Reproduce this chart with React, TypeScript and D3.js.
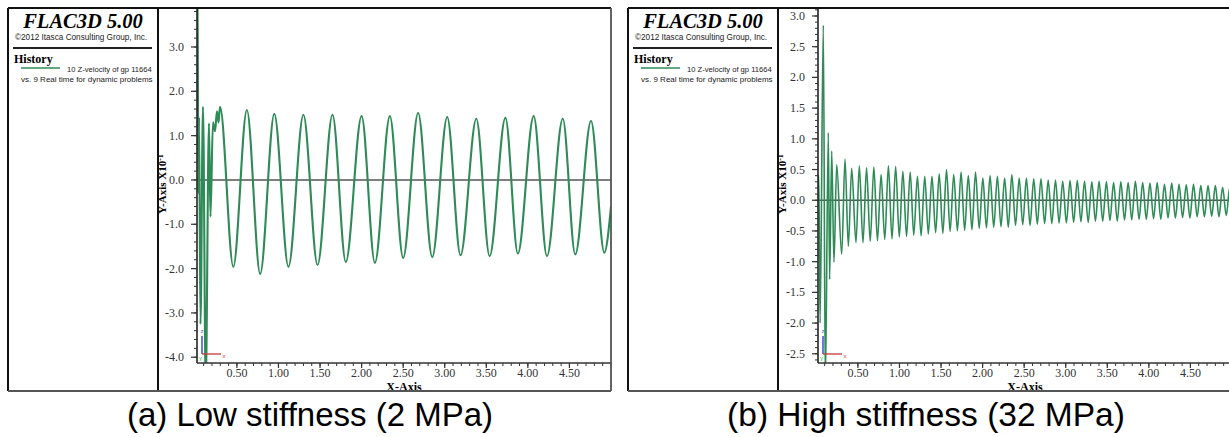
import React from 'react';
import * as d3 from 'd3';

// ---------- data ----------
const xTickValues = [0.5, 1.0, 1.5, 2.0, 2.5, 3.0, 3.5, 4.0, 4.5];
const xTickLabels = ['0.50', '1.00', '1.50', '2.00', '2.50', '3.00', '3.50', '4.00', '4.50'];

const leftYTicks = [3, 2, 1, 0, -1, -2, -3, -4];
const leftYLabels = ['3.0', '2.0', '1.0', '0.0', '-1.0', '-2.0', '-3.0', '-4.0'];
const rightYTicks = [3, 2.5, 2, 1.5, 1, 0.5, 0, -0.5, -1, -1.5, -2, -2.5];
const rightYLabels = ['3.0', '2.5', '2.0', '1.5', '1.0', '0.5', '0.0', '-0.5', '-1.0', '-1.5', '-2.0', '-2.5'];

// (a) low stiffness: time (s) and Z-velocity (x10^-1)
const leftTime = [0.0, 0.026, 0.036, 0.044, 0.062, 0.092, 0.125, 0.164, 0.182, 0.212, 0.237, 0.26, 0.279, 0.297,
  0.457, 0.62, 0.78, 0.95, 1.12, 1.30, 1.47, 1.65, 1.81, 2.0, 2.16, 2.34, 2.5, 2.68, 2.85, 3.03, 3.19, 3.38,
  3.54, 3.73, 3.88, 4.07, 4.23, 4.42, 4.57, 4.76, 4.92, 5.0];
const leftVel = [0.0, 4.6, -0.3, 1.42, -3.25, 1.65, -4.6, 1.28, -0.83, 1.3, 1.1, 1.55, 1.3, 1.65,
  -1.96, 1.58, -2.12, 1.49, -1.96, 1.47, -1.92, 1.47, -1.85, 1.44, -1.87, 1.44, -1.76, 1.51, -1.74, 1.42, -1.70, 1.38,
  -1.72, 1.40, -1.66, 1.44, -1.72, 1.38, -1.68, 1.33, -1.64, -0.6];

// (b) high stiffness: early transient
const rightStartTime = [0.0, 0.03, 0.045, 0.084, 0.108, 0.144, 0.160, 0.185, 0.212, 0.245, 0.305, 0.345, 0.385, 0.425, 0.477];
const rightStartVel = [0.0, 0.4, -2.0, 2.85, -3.0, 1.10, -1.29, 0.80, -1.01, 0.58, -0.88, 0.67, -0.75, 0.52, -0.69];
// (b) peaks
const rightPeakTime = [0.517, 0.604, 0.692, 0.779, 0.867, 0.954, 1.041, 1.129, 1.216, 1.304, 1.391, 1.478, 1.566,
  1.653, 1.741, 1.828, 1.915, 2.003, 2.090, 2.178, 2.265, 2.352, 2.440, 2.527, 2.615, 2.702, 2.789, 2.877, 2.964,
  3.052, 3.139, 3.226, 3.314, 3.401, 3.489, 3.576, 3.663, 3.751, 3.838, 3.926, 4.013, 4.100, 4.188, 4.275, 4.363,
  4.450, 4.537, 4.625, 4.712, 4.800, 4.887, 4.974];
const rightPeakVel = [0.56, 0.53, 0.54, 0.42, 0.56, 0.55, 0.47, 0.46, 0.39, 0.39, 0.39, 0.43, 0.50,
  0.42, 0.46, 0.40, 0.46, 0.36, 0.40, 0.39, 0.36, 0.42, 0.36, 0.36, 0.35, 0.35, 0.33, 0.33, 0.31,
  0.32, 0.32, 0.31, 0.30, 0.31, 0.30, 0.29, 0.30, 0.29, 0.31, 0.29, 0.28, 0.29, 0.26, 0.28, 0.26,
  0.25, 0.26, 0.24, 0.24, 0.24, 0.21, 0.22];
// (b) troughs
const rightTroughTime = [0.561, 0.648, 0.735, 0.823, 0.910, 0.998, 1.085, 1.172, 1.260, 1.347, 1.435, 1.522, 1.609,
  1.697, 1.784, 1.872, 1.959, 2.046, 2.134, 2.221, 2.309, 2.396, 2.483, 2.571, 2.658, 2.746, 2.833, 2.920, 3.008,
  3.095, 3.183, 3.270, 3.357, 3.445, 3.532, 3.620, 3.707, 3.794, 3.882, 3.969, 4.057, 4.144, 4.231, 4.319, 4.406,
  4.494, 4.581, 4.668, 4.756, 4.843, 4.931];
const rightTroughVel = [-0.69, -0.67, -0.66, -0.64, -0.63, -0.60, -0.59, -0.57, -0.58, -0.55, -0.53, -0.54, -0.51,
  -0.50, -0.49, -0.48, -0.46, -0.45, -0.44, -0.43, -0.44, -0.41, -0.40, -0.41, -0.39, -0.38, -0.38, -0.37, -0.37,
  -0.36, -0.35, -0.36, -0.34, -0.34, -0.33, -0.34, -0.32, -0.32, -0.31, -0.31, -0.30, -0.31, -0.29, -0.29, -0.28,
  -0.29, -0.27, -0.27, -0.26, -0.27, -0.25];
const rightEndTime = [5.0];
const rightEndVel = [-0.1];

type Pt = [number, number];
const zip = (t: number[], v: number[]): Pt[] => t.map((d, i) => [d, v[i]] as Pt);

const leftData: Pt[] = zip(leftTime, leftVel);
const rightData: Pt[] = [
  ...zip(rightStartTime, rightStartVel),
  ...zip(rightPeakTime, rightPeakVel),
  ...zip(rightTroughTime, rightTroughVel),
  ...zip(rightEndTime, rightEndVel),
].sort((a, b) => a[0] - b[0]);

const GREEN = '#2e8b57';
const SERIF = '"Liberation Serif", "Times New Roman", serif';
const SANS = '"Liberation Sans", Arial, sans-serif';

interface PanelProps {
  id: string;
  boxL: number;
  divX: number;
  axX: number;
  boxR: number;
  yDomain: [number, number];
  yTicks: number[];
  yLabels: string[];
  yMinor: number[];
  data: Pt[];
  strokeW: number;
}

const TOP = 8;
const XAXIS_Y = 363;
const BOTTOM = 391;

function Panel(p: PanelProps) {
  const x = d3.scaleLinear().domain([0.02, 5.0]).range([p.axX, p.axX + 4.98 * 83.13]);
  const y = d3.scaleLinear().domain(p.yDomain).range([XAXIS_Y, TOP]);
  const line = d3.line<Pt>().x(d => x(d[0])).y(d => y(d[1])).curve(d3.curveMonotoneX);
  const xMinor = d3.range(0.1, 5.001, 0.1);
  const cx = (p.axX + p.boxR) / 2;
  const a = p.axX;
  return (
    <g>
      <defs>
        <clipPath id={`plot-${p.id}`}>
          <rect x={p.axX} y={TOP} width={p.boxR - p.axX} height={XAXIS_Y - TOP} />
        </clipPath>
        <clipPath id={`box-${p.id}`}>
          <rect x={p.divX} y={TOP} width={p.boxR - p.divX} height={BOTTOM - TOP} />
        </clipPath>
      </defs>
      <rect x={p.boxL} y={TOP} width={p.boxR - p.boxL} height={BOTTOM - TOP} fill="#fff" />

      {/* legend */}
      <text x={(p.boxL + p.divX) / 2} y={28} textAnchor="middle" fontFamily={SERIF} fontWeight="bold"
        fontStyle="italic" fontSize={20.5}>FLAC3D 5.00</text>
      <text x={p.boxL + 7} y={40} fontFamily={SANS} fontSize={8.2} fill="#222">©2012 Itasca Consulting Group, Inc.</text>
      <line x1={p.boxL + 5} x2={p.divX - 6} y1={48} y2={48} stroke="#222" strokeWidth={1.8} />
      <text x={p.boxL + 6} y={63} fontFamily={SERIF} fontWeight="bold" fontSize={12}>History</text>
      <line x1={p.boxL + 13} x2={p.boxL + 52} y1={68} y2={68} stroke={GREEN} strokeWidth={1.5} />
      <text x={p.boxL + 59} y={72} fontFamily={SANS} fontSize={7.6} fill="#222">10 Z-velocity of gp 11664</text>
      <text x={p.boxL + 13} y={82} fontFamily={SANS} fontSize={8} fill="#222">vs. 9 Real time for dynamic problems</text>

      {/* axis titles */}
      <g clipPath={`url(#box-${p.id})`}>
        <text transform={`translate(${p.divX + 7.5},184) rotate(-90)`} textAnchor="middle" fontFamily={SERIF}
          fontWeight="bold" fontSize={11}>
          Y-Axis  X10<tspan dy={-3} fontSize={8}>-1</tspan>
        </text>
        <text x={cx} y={391} textAnchor="middle" fontFamily={SERIF} fontWeight="bold" fontSize={12}>X-Axis</text>
      </g>

      {/* zero line */}
      <line x1={p.axX} x2={p.boxR} y1={y(0)} y2={y(0)} stroke="#555" strokeWidth={1.5} />

      {/* data */}
      <g clipPath={`url(#plot-${p.id})`}>
        <path d={line(p.data) || ''} fill="none" stroke={GREEN} strokeWidth={p.strokeW} strokeLinejoin="round" />
      </g>

      {/* axis glyph */}
      <line x1={a + 5} x2={a + 5} y1={336} y2={354} stroke="#2233cc" strokeWidth={1.3} />
      <line x1={a + 5} x2={a + 24} y1={354} y2={354} stroke="#cc3333" strokeWidth={1.3} />
      <text x={a + 5} y={333} textAnchor="middle" fontFamily={SANS} fontSize={6} fill="#4455dd">z</text>
      <text x={a + 27} y={358} textAnchor="middle" fontFamily={SANS} fontSize={6} fill="#dd3333">x</text>
      <text x={a + 3.5} y={360} textAnchor="middle" fontFamily={SANS} fontSize={6} fill="#33bb33">y</text>

      {/* y axis */}
      <line x1={p.axX} x2={p.axX} y1={TOP + 1} y2={XAXIS_Y} stroke="#222" strokeWidth={1.6} />
      {p.yMinor.map((v, i) => (
        <line key={`ym${i}`} x1={p.axX - 3} x2={p.axX} y1={y(v)} y2={y(v)} stroke="#333" strokeWidth={1} />
      ))}
      {p.yTicks.map((v, i) => (
        <g key={`yt${i}`}>
          <line x1={p.axX - 6} x2={p.axX} y1={y(v)} y2={y(v)} stroke="#333" strokeWidth={1.2} />
          <text x={p.axX - 13} y={y(v) + 4} textAnchor="end" fontFamily={SERIF} fontSize={12} fill="#333">{p.yLabels[i]}</text>
        </g>
      ))}

      {/* x axis */}
      <line x1={p.axX} x2={p.boxR} y1={XAXIS_Y} y2={XAXIS_Y} stroke="#333" strokeWidth={1.6} />
      {xMinor.map((v, i) => (
        <line key={`xm${i}`} x1={x(v)} x2={x(v)} y1={XAXIS_Y} y2={XAXIS_Y + 3} stroke="#333" strokeWidth={1} />
      ))}
      {xTickValues.map((v, i) => (
        <g key={`xt${i}`}>
          <line x1={x(v)} x2={x(v)} y1={XAXIS_Y} y2={XAXIS_Y + 5} stroke="#333" strokeWidth={1.2} />
          <text x={x(v)} y={377} textAnchor="middle" fontFamily={SERIF} fontSize={12} fill="#333">{xTickLabels[i]}</text>
        </g>
      ))}

      {/* frame */}
      <line x1={p.boxL} x2={p.boxR} y1={TOP} y2={TOP} stroke="#111" strokeWidth={2} />
      <line x1={p.boxL} x2={p.boxL} y1={TOP} y2={BOTTOM} stroke="#111" strokeWidth={2} />
      <line x1={p.divX} x2={p.divX} y1={TOP} y2={BOTTOM} stroke="#111" strokeWidth={2} />
      <line x1={p.boxR} x2={p.boxR} y1={TOP} y2={BOTTOM} stroke="#555" strokeWidth={1.8} />
      <line x1={p.boxL} x2={p.boxR} y1={BOTTOM} y2={BOTTOM} stroke="#555" strokeWidth={2} />
    </g>
  );
}

export default function App() {
  return (
    <svg width={1229} height={437} viewBox="0 0 1229 437"
      style={{ position: 'absolute', left: 0, top: 0, background: '#fff' }}>
      <rect x={0} y={0} width={1229} height={437} fill="#fff" />
      <Panel id="a" boxL={8} divX={158} axX={197} boxR={611} yDomain={[-4.13, 3.88]}
        yTicks={leftYTicks} yLabels={leftYLabels} yMinor={d3.range(-4.0, 3.81, 0.2)}
        data={leftData} strokeW={2.1} />
      <Panel id="b" boxL={628} divX={778} axX={818} boxR={1232} yDomain={[-2.65, 3.13]}
        yTicks={rightYTicks} yLabels={rightYLabels} yMinor={d3.range(-2.6, 3.101, 0.1)}
        data={rightData} strokeW={1.6} />
      <text x={310} y={426} textAnchor="middle" fontFamily={SANS} fontSize={33}>(a) Low stiffness (2 MPa)</text>
      <text x={926} y={426} textAnchor="middle" fontFamily={SANS} fontSize={33.5}>(b) High stiffness (32 MPa)</text>
    </svg>
  );
}
